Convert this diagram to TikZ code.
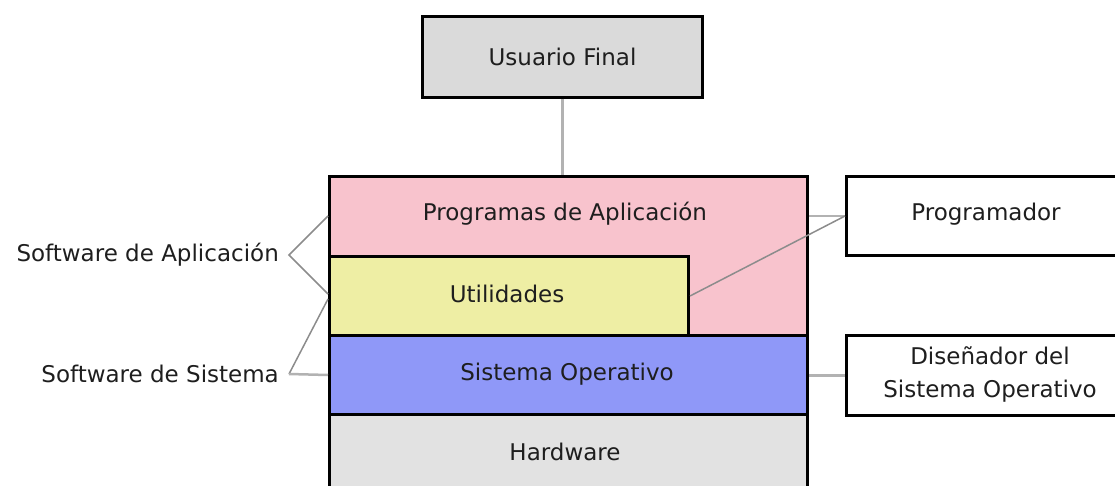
\documentclass[tikz,border=0pt]{standalone}
\usepackage{fontspec}
\setmainfont{DejaVu Sans}
\usetikzlibrary{positioning}
\definecolor{pinkapp}{RGB}{248,195,205}
\definecolor{yellowutil}{RGB}{238,238,164}
\definecolor{bluesys}{RGB}{143,152,248}
\definecolor{grayhw}{RGB}{226,226,226}
\definecolor{grayuser}{RGB}{218,218,218}
\definecolor{grayline}{RGB}{178,178,178}
\definecolor{txt}{RGB}{30,30,30}

\begin{document}
\begin{tikzpicture}[x=1pt,y=1pt,yscale=-1,xscale=1,
  every node/.style={font=\fontsize{23}{33}\selectfont, text=txt},
  layer/.style={draw=black, line width=3, anchor=north west, inner sep=0},
  conn/.style={draw=grayline, line width=2.5},
  thinconn/.style={draw=black!45, line width=1.5}]
\useasboundingbox (0,0) rectangle (1115,486);
\clip (0,0) rectangle (1115,486);

%Shape: Layers
\node (aplic) [layer, fill=pinkapp, minimum width=478, minimum height=159] at (328,175) {};
\node (util) [layer, fill=yellowutil, minimum width=359, minimum height=79] at (328,255) {};
\node (sisop) [layer, fill=bluesys, minimum width=478, minimum height=79] at (328,334) {};
\node (hw) [layer, fill=grayhw, minimum width=478, minimum height=110] at (328,413) {};

% Text Node
\node (usuario) [layer, fill=grayuser, minimum width=280, minimum height=81] at (421,15) {Usuario Final};
% Text Node
\node (aplictxt) at (565,214) {Programas de Aplicación};
% Text Node
\node (utiltxt) at (507,294) {Utilidades};
% Text Node
\node (sisoptxt) at (567,374) {Sistema Operativo};
% Text Node
\node (hwtxt) at (565,452) {Hardware};
% Text Node
\node (prog) [layer, fill=white, minimum width=290, minimum height=79] at (845,175) {};
\node at (986,214) {Programador};
% Text Node
\node (disen) [layer, fill=white, minimum width=290, minimum height=80] at (845,334) {};
\node [align=center] at (990,374) {Diseñador del\\Sistema Operativo};
% Text Node
\node (swapl) [anchor=east, inner sep=0] at (279,255) {Software de Aplicación};
% Text Node
\node (swsis) [anchor=east, inner sep=0] at (279,374) {Software de Sistema};

% Connection
\draw [conn] (usuario.south) -- (usuario.south |- aplic.north);
% Connection
\draw [conn] (prog.west) -- (prog.west -| aplic.east);
\draw [thinconn] (prog.west) -- (util.east);
% Connection
\draw [conn] (disen.west) -- (disen.west -| sisop.east);
% Connection
\draw [thinconn] (prog.west -| aplic.west) -- ([xshift=10]swapl.east) -- ([yshift=-2]util.west);
% Connection
\draw [thinconn] ([yshift=3]util.west) -- ([xshift=10]swsis.east);
\draw [conn] ([xshift=10]swsis.east) -- (sisop.west);

\end{tikzpicture}
\end{document}
